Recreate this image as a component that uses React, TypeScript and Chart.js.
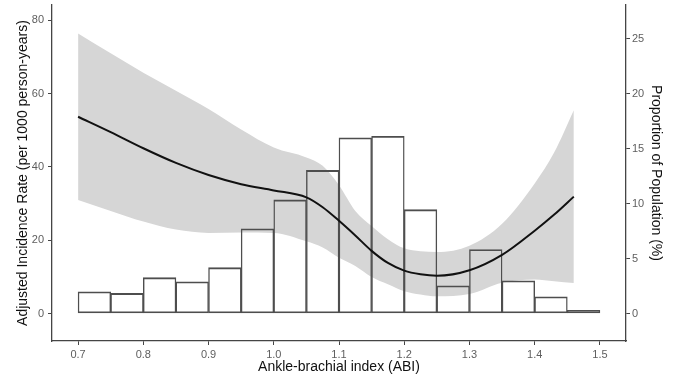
import React, { useEffect, useRef } from "react";
import { Chart, registerables } from "chart.js";

Chart.register(...registerables);

// Histogram bins (centres) and proportion of population (%)
const BIN_CENTERS = [0.725, 0.775, 0.825, 0.875, 0.925, 0.975, 1.025, 1.075, 1.125, 1.175, 1.225, 1.275, 1.325, 1.375, 1.425, 1.475];
const BIN_PERCENT = [1.98, 1.83, 3.26, 2.89, 4.17, 7.71, 10.34, 13.02, 15.99, 16.13, 9.45, 2.53, 5.82, 2.98, 1.52, 0.3];

// Spline fit of adjusted incidence rate with confidence band
const CURVE_X = [0.7, 0.75, 0.8, 0.85, 0.9, 0.95, 1.0, 1.05, 1.075, 1.1, 1.125, 1.15, 1.175, 1.2, 1.225, 1.25, 1.3, 1.35, 1.4, 1.43, 1.46];
const FIT = [53.7, 49.5, 45.1, 41.1, 37.8, 35.3, 33.6, 31.7, 29.0, 25.3, 21.3, 17.1, 13.8, 11.7, 10.7, 10.3, 11.8, 16.0, 22.6, 27.0, 31.9];
const UPPER = [76.4, 71.0, 65.7, 60.8, 55.8, 50.2, 45.3, 42.6, 40.3, 35.0, 28.0, 23.9, 20.3, 17.8, 17.0, 16.8, 18.5, 24.5, 35.5, 44.0, 55.5];
const LOWER = [31.0, 28.0, 25.1, 22.9, 22.0, 22.1, 22.0, 19.7, 18.0, 15.2, 13.0, 10.0, 8.0, 6.1, 5.2, 4.7, 5.3, 8.4, 9.3, 8.8, 8.3];

const X_TICKS = [0.7, 0.8, 0.9, 1.0, 1.1, 1.2, 1.3, 1.4, 1.5];
const Y_LEFT_TICKS = [0, 20, 40, 60, 80];
const Y_RIGHT_TICKS = [0, 5, 10, 15, 20, 25];

const X_TITLE = "Ankle-brachial index (ABI)";
const Y_LEFT_TITLE = "Adjusted Incidence Rate (per 1000 person-years)";
const Y_RIGHT_TITLE = "Proportion of Population (%)";

const FONT = "'Liberation Sans', Arial, sans-serif";
const TICK_COLOR = "#5e5e5e";
const AXIS_COLOR = "#454545";
const TITLE_COLOR = "#111111";

export default function App() {
  const ref = useRef<HTMLCanvasElement | null>(null);

  useEffect(() => {
    if (!ref.current) return;
    const pts = (ys: number[]) => CURVE_X.map((x, i) => ({ x, y: ys[i] }));
    const bw = { top: 1.2, bottom: 1.2, left: 0.75, right: 0.75 };
    const noVPad = (s: any) => {
      s.paddingTop = 0;
      s.paddingBottom = 0;
    };

    const chart = new Chart(ref.current, {
      type: "bar",
      data: {
        datasets: [
          {
            type: "line",
            label: "upper",
            data: pts(UPPER),
            yAxisID: "y",
            borderWidth: 0,
            pointRadius: 0,
            backgroundColor: "#d6d6d6",
            fill: "+1",
            cubicInterpolationMode: "monotone",
            order: 4,
          } as any,
          {
            type: "line",
            label: "lower",
            data: pts(LOWER),
            yAxisID: "y",
            borderWidth: 0,
            pointRadius: 0,
            fill: false,
            cubicInterpolationMode: "monotone",
            order: 3,
          } as any,
          {
            type: "bar",
            label: "proportion",
            data: BIN_CENTERS.map((x, i) => ({ x, y: BIN_PERCENT[i] })),
            yAxisID: "y2",
            backgroundColor: "rgba(0,0,0,0)",
            borderColor: "#4e4e4e",
            borderWidth: bw,
            borderSkipped: false,
            barPercentage: 1,
            categoryPercentage: 1,
            order: 2,
          } as any,
          {
            type: "line",
            label: "fit",
            data: pts(FIT),
            yAxisID: "y",
            borderColor: "#111111",
            borderWidth: 2,
            pointRadius: 0,
            fill: false,
            cubicInterpolationMode: "monotone",
            order: 1,
          } as any,
        ],
      },
      options: {
        responsive: false,
        animation: false,
        layout: { padding: { top: 5, left: 0, right: 0, bottom: 0 } },
        plugins: { legend: { display: false }, tooltip: { enabled: false } },
        scales: {
          x: {
            type: "linear",
            min: 0.66,
            max: 1.54,
            offset: false,
            afterBuildTicks: (s: any) => {
              s.ticks = X_TICKS.map((v) => ({ value: v }));
            },
            afterFit: (s: any) => {
              s.height = 38;
              s.paddingLeft = 0;
              s.paddingRight = 0;
            },
            ticks: {
              callback: (v: any) => Number(v).toFixed(1),
              color: TICK_COLOR,
              font: { family: FONT, size: 11 },
              padding: 3,
              maxRotation: 0,
            },
            grid: { display: true, drawOnChartArea: false, offset: false, tickLength: 4, color: AXIS_COLOR, tickWidth: 1 },
            border: { display: true, color: AXIS_COLOR, width: 1.3 },
            title: { display: true, text: X_TITLE, color: TITLE_COLOR, font: { family: FONT, size: 14 }, padding: { top: 0, bottom: 3 } },
          },
          y: {
            type: "linear",
            position: "left",
            min: -7.5,
            max: 84.2,
            afterBuildTicks: (s: any) => {
              s.ticks = Y_LEFT_TICKS.map((v) => ({ value: v }));
            },
            afterFit: (s: any) => {
              s.width = 52;
              noVPad(s);
            },
            ticks: { color: TICK_COLOR, font: { family: FONT, size: 11 }, padding: 4 },
            grid: { display: true, drawOnChartArea: false, tickLength: 4, color: AXIS_COLOR, tickWidth: 1 },
            border: { display: true, color: AXIS_COLOR, width: 1.3 },
            title: { display: true, text: Y_LEFT_TITLE, color: TITLE_COLOR, font: { family: FONT, size: 14 }, padding: { top: 15, bottom: 0 } },
          },
          y2: {
            type: "linear",
            position: "right",
            min: -7.5 / 3,
            max: 84.2 / 3,
            afterBuildTicks: (s: any) => {
              s.ticks = Y_RIGHT_TICKS.map((v) => ({ value: v }));
            },
            afterFit: (s: any) => {
              s.width = 47;
              noVPad(s);
            },
            ticks: { color: TICK_COLOR, font: { family: FONT, size: 11 }, padding: 2 },
            grid: { display: true, drawOnChartArea: false, tickLength: 4, color: AXIS_COLOR, tickWidth: 1 },
            border: { display: true, color: AXIS_COLOR, width: 1.3 },
            title: { display: true, text: Y_RIGHT_TITLE, color: TITLE_COLOR, font: { family: FONT, size: 14 }, padding: { top: 9, bottom: 0 } },
          },
        },
      } as any,
    });
    return () => chart.destroy();
  }, []);

  return (
    <div style={{ position: "absolute", left: 0, top: 0, width: 673, height: 379, background: "#fff" }}>
      <canvas ref={ref} width={673} height={379} style={{ width: 673, height: 379, display: "block" }} />
    </div>
  );
}
